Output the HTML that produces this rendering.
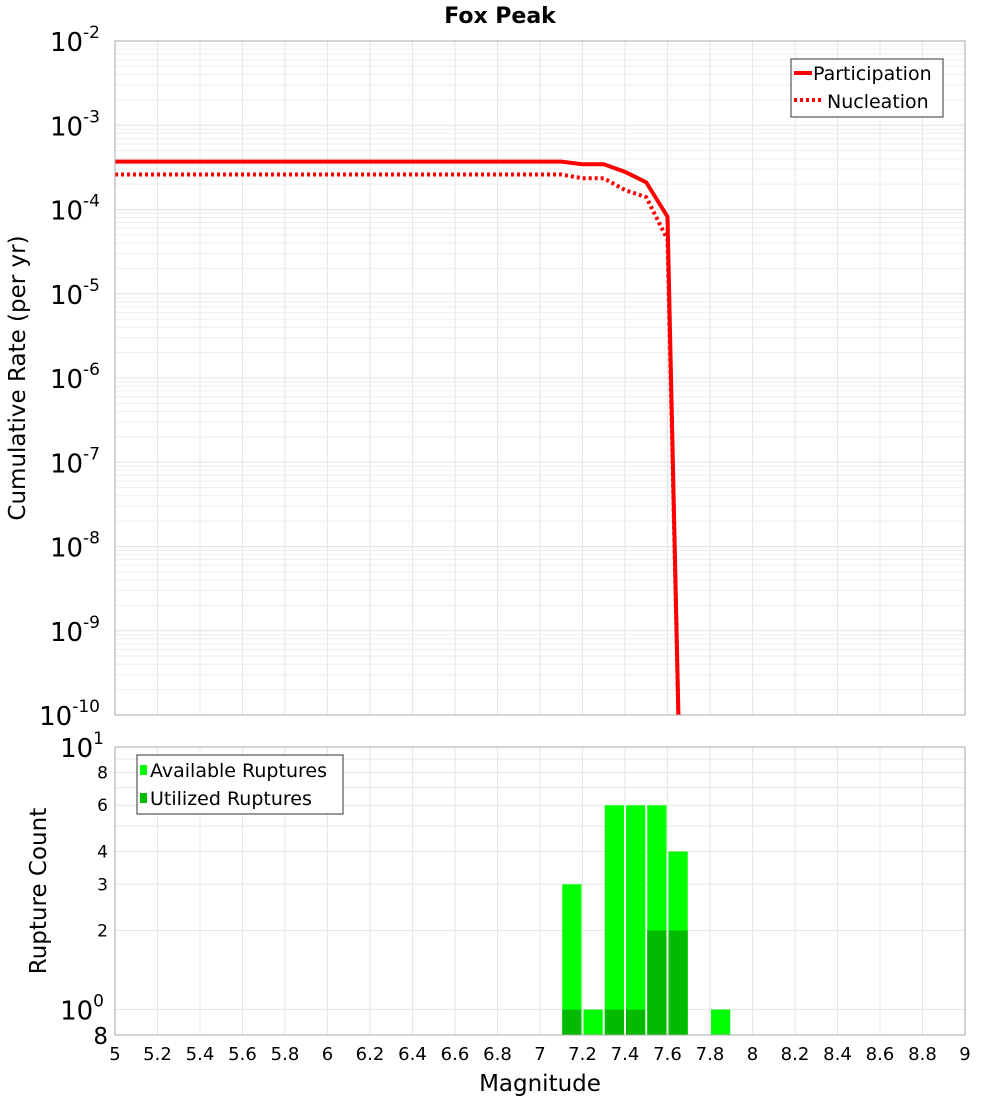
<!DOCTYPE html>
<html><head><meta charset="utf-8"><style>
body{margin:0;background:#fff;}
svg text{font-family:"DejaVu Sans","Liberation Sans",sans-serif;}
</style></head><body>
<svg id="c" width="1000" height="1100" xmlns="http://www.w3.org/2000/svg"></svg>
<script>
const mags=[5,5.5,6,6.5,7,7.1,7.2,7.3,7.4,7.5,7.6,7.66];
const participation=[3.7e-4,3.7e-4,3.7e-4,3.7e-4,3.7e-4,3.7e-4,3.45e-4,3.45e-4,2.8e-4,2.1e-4,8.2e-5,1e-11];
const nucleation=[2.6e-4,2.6e-4,2.6e-4,2.6e-4,2.6e-4,2.6e-4,2.35e-4,2.35e-4,1.7e-4,1.4e-4,4.4e-5,1e-11];
const binStarts=[7.1,7.2,7.3,7.4,7.5,7.6,7.8];
const available=[3,1,6,6,6,4,1];
const utilized=[1,0,1,1,2,2,0];
const xTicks=[5,5.2,5.4,5.6,5.8,6,6.2,6.4,6.6,6.8,7,7.2,7.4,7.6,7.8,8,8.2,8.4,8.6,8.8,9];
const yExps=[-2,-3,-4,-5,-6,-7,-8,-9,-10];
const countTicks=[2,3,4,6,8];

const svg=document.getElementById('c');const NS='http://www.w3.org/2000/svg';
function el(t,a,p){const e=document.createElementNS(NS,t);for(const k in a)e.setAttribute(k,a[k]);(p||svg).appendChild(e);return e;}
const L=115,R=965,T1=41,B1=715,T2=747,B2=1035;
const X=m=>L+(m-5)/4*(R-L);
const Y1=v=>T1+(-2-Math.log10(v))*(B1-T1)/8;
const Y2=v=>B2-(Math.log10(v)-Math.log10(0.8))*(B2-T2)/(1-Math.log10(0.8));

let g=el('g',{});
for(let e=-10;e<-2;e++)for(let k=1;k<10;k++){const y=Y1(k*Math.pow(10,e));el('line',{x1:L,x2:R,y1:y,y2:y,stroke:k==1?'#e0e0e0':'#eeeeee','stroke-width':1},g);}
xTicks.forEach(m=>{el('line',{x1:X(m),x2:X(m),y1:T1,y2:B1,stroke:'#e6e6e6'},g);});
let g2=el('g',{});
for(let k=1;k<=10;k++){const y=Y2(k);el('line',{x1:L,x2:R,y1:y,y2:y,stroke:'#e6e6e6'},g2);}
xTicks.forEach(m=>{el('line',{x1:X(m),x2:X(m),y1:T2,y2:B2,stroke:'#e6e6e6'},g2);});

const defs=el('defs',{});const cp=el('clipPath',{id:'cp1'},defs);el('rect',{x:L,y:T1,width:R-L,height:B1-T1},cp);
function line(vals,name,dash){const p=el('polyline',{points:mags.map((m,i)=>X(m)+','+Y1(vals[i])).join(' '),fill:'none',stroke:'#ff0000','stroke-width':4,'stroke-dasharray':dash||'','clip-path':'url(#cp1)'});}
line(participation,'participation-line');
line(nucleation,'nucleation-line','3,3');

binStarts.forEach((m,i)=>{
 const x=X(m)+1,w=X(m+0.1)-X(m)-2;
 const a=el('rect',{x:x,y:Y2(available[i]),width:w,height:B2-Y2(available[i]),fill:'#00ff00'});
 
 if(utilized[i]>0){const u=el('rect',{x:x,y:Y2(utilized[i]),width:w,height:B2-Y2(utilized[i]),fill:'#00bb00'});
 }
});

el('rect',{x:L,y:T1,width:R-L,height:B1-T1,fill:'none',stroke:'#aaa'});
el('rect',{x:L,y:T2,width:R-L,height:B2-T2,fill:'none',stroke:'#aaa'});

function txt(x,y,s,a){const t=el('text',Object.assign({x:x,y:y},a||{}));t.textContent=s;return t;}
let tt=txt(500,23,'Fox Peak',{'text-anchor':'middle','font-size':22,'font-weight':'bold'});
xTicks.forEach(m=>{const t=txt(X(m),1060,String(m),{'text-anchor':'middle','font-size':18});});
let xt=txt(540,1091,'Magnitude',{'text-anchor':'middle','font-size':23});
yExps.forEach(e=>{const y=Y1(Math.pow(10,e));const t=el('text',{x:100,y:y+10,'text-anchor':'end','font-size':26});
 t.textContent='10';const s=el('tspan',{dy:-13,'font-size':17},t);s.textContent=String(e);});
let yt=txt(0,0,'Cumulative Rate (per yr)',{'text-anchor':'middle','font-size':23,transform:'translate(25,378) rotate(-90)'});
let yt2=txt(0,0,'Rupture Count',{'text-anchor':'middle','font-size':23,transform:'translate(46,891) rotate(-90)'});
countTicks.forEach(v=>{const t=txt(108,Y2(v)+6,String(v),{'text-anchor':'end','font-size':17});});
[[10,'1',Y2(10)],[1,'0',Y2(1)]].forEach(a=>{const t=el('text',{x:104,y:a[2]+10,'text-anchor':'end','font-size':26});t.textContent='10';const s=el('tspan',{dy:-13,'font-size':17},t);s.textContent=a[1];});
let e8=txt(108,1044,'8',{'text-anchor':'end','font-size':23});

let lg=el('g',{});
el('rect',{x:791,y:59,width:152,height:58,fill:'#fff',stroke:'#333'},lg);
el('line',{x1:794,x2:812,y1:73,y2:73,stroke:'#f00','stroke-width':4},lg);
el('line',{x1:794,x2:822,y1:100,y2:100,stroke:'#f00','stroke-width':4,'stroke-dasharray':'3,3'},lg);
txt(813,80,'Participation',{'font-size':19},lg);txt(827,108,'Nucleation',{'font-size':19},lg);
let lg2=el('g',{});
el('rect',{x:137,y:755,width:206,height:59,fill:'#fff',stroke:'#333'},lg2);
el('rect',{x:140,y:765,width:7,height:10,fill:'#00ff00'},lg2);
el('rect',{x:140,y:793,width:7,height:10,fill:'#00bb00'},lg2);
txt(150,777,'Available Ruptures',{'font-size':19},lg2);txt(150,805,'Utilized Ruptures',{'font-size':19},lg2);
</script>
</body></html>
